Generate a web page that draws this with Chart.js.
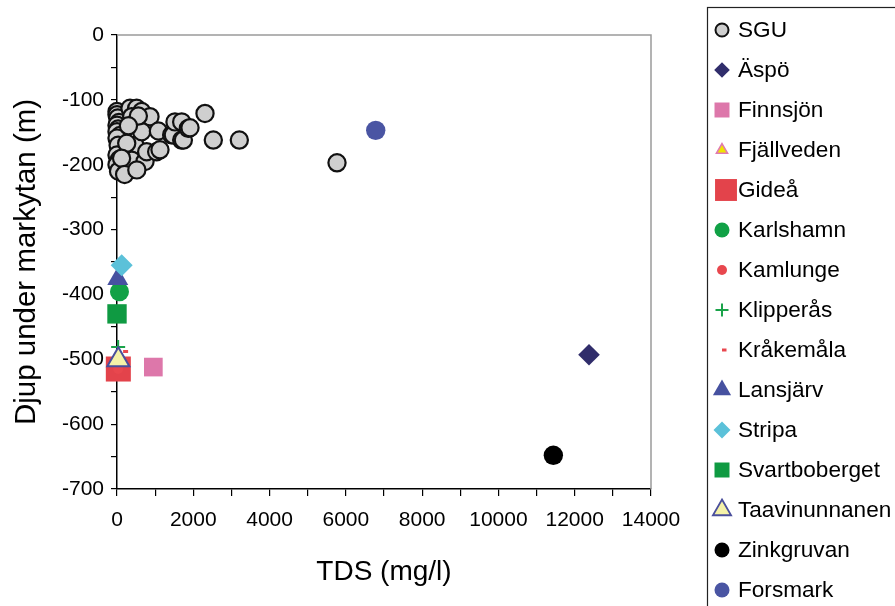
<!DOCTYPE html>
<html>
<head>
<meta charset="utf-8">
<script src="https://cdn.jsdelivr.net/npm/chart.js@4/dist/chart.umd.min.js"></script>
<style>
  html, body { margin: 0; padding: 0; background: #fff; }
  #wrap { width: 895px; height: 606px; position: relative; }
</style>
</head>
<body>
<div id="wrap"><canvas id="c" width="895" height="606"></canvas></div>
<script>
// series names, in legend order
const names = ['SGU', 'Äspö', 'Finnsjön', 'Fjällveden', 'Gideå', 'Karlshamn', 'Kamlunge',
  'Klipperås', 'Kråkemåla', 'Lansjärv', 'Stripa', 'Svartboberget', 'Taavinunnanen', 'Zinkgruvan', 'Forsmark'];

// SGU wells: TDS (mg/l) and depth (m)
const sguTds = [0, 0, 20, 50, 0, 30, 0, 80, 0, 30, 0, 60, 160, 100, 340, 515, 385, 647, 865, 472,
  255, 647, 385, 735, 778, 1040, 1085, 1433, 1477, 1520, 1696, 1696, 1740, 1870, 1914, 2307,
  2525, 3207, 5768, 0, 40, 120, 200, 520, 560, 300, 1127];
const sguDepth = [-118, -123, -128, -135, -139, -145, -149, -155, -159, -170, -185, -192, -205, -200,
  -113, -113, -126, -118, -126, -170, -167, -149, -193, -195, -180, -180, -148, -154, -154, -134,
  -134, -162, -162, -144, -143, -121, -162, -162, -197, -200, -210, -190, -215, -208, -125, -140, -177];

// the other sites, one value each (same order as names, after SGU)
const siteTds   = [12375, 953, 20, 35, 65, 30, 30, 160, 20, 123, 0, 35, 11440, 6783];
const siteDepth = [-493, -512, -497, -515, -396, -515, -481, -488, -376, -355, -430, -501, -648, -147];

const xTicksMax = 14000;
const yTicksMin = -700;

// look of each series: chart marker, legend marker
const looks = [
  { style: 'circle',   fill: '#cfcfcf', line: '#111111', r: 8.6, bw: 2.2, lr: 6.5, lbw: 2 },
  { style: 'rectRot',  fill: '#302d6b', line: '#302d6b', r: 10.8, bw: 0, lr: 7.8, lbw: 0 },
  { style: 'rect',     fill: '#dd77aa', line: '#dd77aa', r: 13.2, bw: 0, lr: 10.6, lbw: 0 },
  { style: 'triangle', fill: '#f0e400', line: '#e07ab0', r: 6.5, bw: 1.5, lr: 6.5, lbw: 1.5 },
  { style: 'rect',     fill: '#e3434b', line: '#e3434b', r: 17.7, bw: 0, lr: 15.5, lbw: 0 },
  { style: 'circle',   fill: '#11a146', line: '#11a146', r: 9.5, bw: 0, lr: 7.5, lbw: 0 },
  { style: 'circle',   fill: '#e8474e', line: '#e8474e', r: 5, bw: 0, lr: 5, lbw: 0 },
  { style: 'cross',    fill: '#1aa34a', line: '#1aa34a', r: 7, bw: 2, lr: 6.5, lbw: 2 },
  { style: 'dash',     fill: '#e8474e', line: '#e8474e', r: 5, bw: 3, lr: 4.5, lbw: 3 },
  { style: 'triangle', fill: '#4651a0', line: '#4651a0', r: 12.1, bw: 0, lr: 10.5, lbw: 0 },
  { style: 'rectRot',  fill: '#5bc1d9', line: '#5bc1d9', r: 11, bw: 0, lr: 8.5, lbw: 0 },
  { style: 'rect',     fill: '#0f9a42', line: '#0f9a42', r: 13.7, bw: 0, lr: 10.6, lbw: 0 },
  { style: 'triangle', fill: '#f5f2a8', line: '#4a4f9c', r: 12.7, bw: 2, lr: 10.5, lbw: 1.8 },
  { style: 'circle',   fill: '#000000', line: '#000000', r: 9.7, bw: 0, lr: 7.5, lbw: 0 },
  { style: 'circle',   fill: '#4a55a3', line: '#4a55a3', r: 9.7, bw: 0, lr: 7.5, lbw: 0 }
];

const datasets = names.map(function (name, i) {
  let pts;
  if (i === 0) {
    pts = sguTds.map(function (x, k) { return { x: x, y: sguDepth[k] }; });
  } else {
    pts = [{ x: siteTds[i - 1], y: siteDepth[i - 1] }];
  }
  const lk = looks[i];
  return {
    label: name,
    data: pts,
    pointStyle: lk.style,
    pointRadius: lk.r,
    pointHoverRadius: lk.r,
    backgroundColor: lk.fill,
    borderColor: lk.line,
    pointBorderWidth: lk.bw,
    legendRadius: lk.lr,
    legendBorder: lk.lbw,
    order: -i,       // later series on top, like the original
    clip: false
  };
});

const FONT = "'Liberation Sans', Arial, Helvetica, sans-serif";

// gray frame round the plot (top and right)
const framePlugin = {
  id: 'frame',
  beforeDatasetsDraw(chart) {
    const a = chart.chartArea, ctx = chart.ctx;
    ctx.save();
    ctx.strokeStyle = '#9a9a9a';
    ctx.lineWidth = 1.5;
    ctx.beginPath();
    ctx.moveTo(a.left, a.top);
    ctx.lineTo(a.right, a.top);
    ctx.lineTo(a.right, a.bottom);
    ctx.stroke();
    ctx.restore();
  }
};

// legend in a box on the right, one row every 40px
const boxLegend = {
  id: 'boxLegend',
  afterDraw(chart) {
    const ctx = chart.ctx;
    ctx.save();
    ctx.strokeStyle = '#222';
    ctx.lineWidth = 1.2;
    ctx.strokeRect(707.5, 7.5, 400, 700);
    ctx.font = '22.6px ' + FONT;
    ctx.textBaseline = 'middle';
    ctx.textAlign = 'left';
    chart.data.datasets.forEach(function (ds, i) {
      const y = 30 + 40 * i;
      const mx = ds.pointStyle === 'rect' && ds.legendRadius > 12 ? 726 : 722;
      ctx.fillStyle = ds.backgroundColor;
      ctx.strokeStyle = ds.borderColor;
      ctx.lineWidth = ds.legendBorder || 1;
      Chart.helpers.drawPoint(ctx, {
        pointStyle: ds.pointStyle, radius: ds.legendRadius,
        borderWidth: ds.legendBorder || (ds.pointStyle === 'cross' || ds.pointStyle === 'dash' ? 2 : 0),
        rotation: 0
      }, mx, y);
      ctx.fillStyle = '#000';
      ctx.fillText(ds.label, 738, y + 1);
    });
    ctx.restore();
  }
};

new Chart(document.getElementById('c'), {
  type: 'scatter',
  data: { datasets: datasets },
  options: {
    responsive: false,
    animation: false,
    devicePixelRatio: 1,
    layout: { padding: { top: 35, right: 244, left: 0, bottom: 0 } },
    plugins: {
      legend: { display: false },
      tooltip: { enabled: false }
    },
    scales: {
      x: {
        type: 'linear',
        min: 0,
        max: xTicksMax,
        afterFit(s) { s.height = 117; },
        border: { color: '#000', width: 1.5 },
        grid: { drawOnChartArea: false, drawTicks: true, tickLength: 7, color: '#000', lineWidth: 1.2 },
        ticks: {
          stepSize: 1000,
          autoSkip: false,
          maxRotation: 0,
          padding: 12,
          color: '#000',
          font: { family: FONT, size: 21 },
          callback: function (v) { return v % 2000 === 0 ? String(v) : ''; }
        },
        title: {
          display: true,
          text: 'TDS (mg/l)',
          color: '#000',
          font: { family: FONT, size: 28 },
          padding: { top: 0, bottom: 17 }
        }
      },
      y: {
        type: 'linear',
        min: yTicksMin,
        max: 0,
        afterFit(s) { s.width = 117; },
        border: { color: '#000', width: 1.5 },
        grid: { drawOnChartArea: false, drawTicks: true, tickLength: 6, color: '#000', lineWidth: 1.2 },
        ticks: {
          stepSize: 50,
          autoSkip: false,
          padding: 7,
          color: '#000',
          font: { family: FONT, size: 21 },
          callback: function (v) { return v % 100 === 0 ? String(v) : ''; }
        },
        title: {
          display: true,
          text: 'Djup under markytan (m)',
          color: '#000',
          font: { family: FONT, size: 29.5 },
          padding: { top: 9, bottom: 0 }
        }
      }
    }
  },
  plugins: [framePlugin, boxLegend]
});
</script>
</body>
</html>
